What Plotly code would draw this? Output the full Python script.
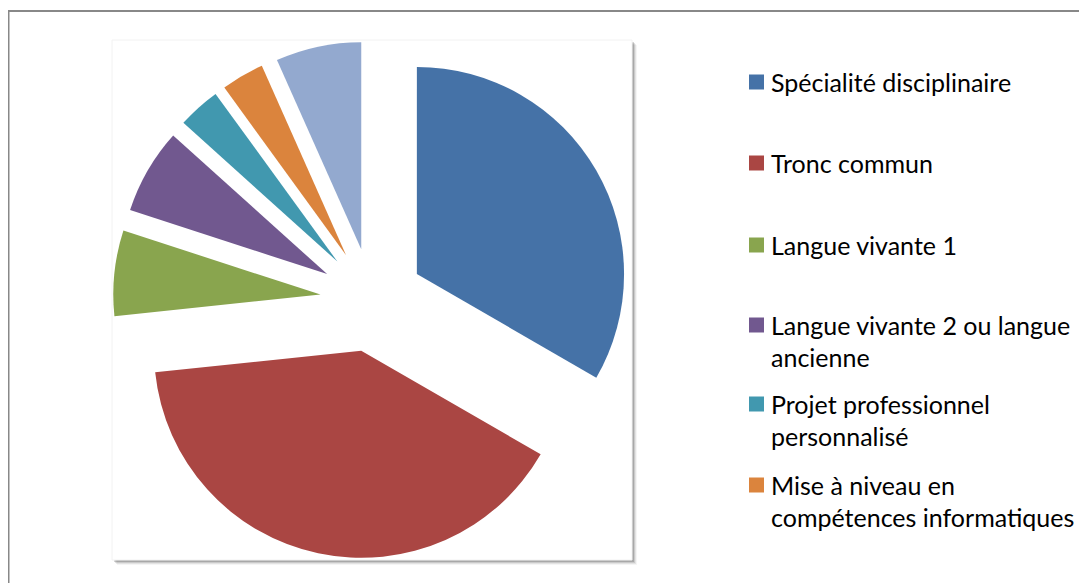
import plotly.graph_objects as go

W, H = 1087, 583
OFF = 8  # page body margin

labels = ["Spécialité disciplinaire", "Tronc commun", "Langue vivante 1",
          "Langue vivante 2 ou langue ancienne", "Projet professionnel personnalisé",
          "Mise à niveau en compétences informatiques", "Autre"]
values = [10, 12, 2, 2, 1, 1, 2]
colors = ["#4572A7", "#AA4643", "#89A54E", "#71588F", "#4198AF", "#DB843D", "#93A9CF"]
pulls = [0.25] * 7

# legend as shown (the last item is cut off in the original)
legend_lines = [
    ["Spécialité disciplinaire"],
    ["Tronc commun"],
    ["Langue vivante 1"],
    ["Langue vivante 2 ou langue", "ancienne"],
    ["Projet professionnel", "personnalisé"],
    ["Mise à niveau en", "compétences informatiques"],
]
legend_y = [82, 163, 245, 325, 404, 485]
line_gap = 32


def px(x):
    return (x - OFF) / W


def py(y):
    return 1 - (y - OFF) / H


fig = go.Figure()
fig.add_trace(go.Pie(
    labels=labels, values=values,
    marker=dict(colors=colors, line=dict(width=0)),
    pull=pulls, sort=False, direction="clockwise", rotation=0,
    textinfo="none", showlegend=False,
    domain=dict(x=[px(113), px(631)], y=[py(559), py(41)]),
))

shapes = []
# outer frame
shapes.append(dict(type="rect", xref="paper", yref="paper", layer="below",
                   x0=px(8.5), x1=px(1110), y0=py(620), y1=py(11),
                   line=dict(color="#888888", width=2), fillcolor="white"))
# plot area shadow
for off, op in [(5, 0.04), (4, 0.07), (3, 0.11), (2, 0.17)]:
    shapes.append(dict(type="rect", xref="paper", yref="paper", layer="below",
                       x0=px(112 + off), x1=px(632 + off), y0=py(560 + off), y1=py(40 + off),
                       line=dict(width=0), fillcolor=f"rgba(0,0,0,{op})"))
shapes.append(dict(type="rect", xref="paper", yref="paper", layer="below",
                   x0=px(112), x1=px(632), y0=py(560), y1=py(40),
                   line=dict(color="#f2f2f2", width=1), fillcolor="white"))

annotations = []
for i, lines in enumerate(legend_lines):
    yc = legend_y[i]
    shapes.append(dict(type="rect", xref="paper", yref="paper",
                       x0=px(749), x1=px(764), y0=py(yc + 7.5), y1=py(yc - 7.5),
                       line=dict(width=0), fillcolor=colors[i]))
    for j, t in enumerate(lines):
        annotations.append(dict(text=t, xref="paper", yref="paper",
                                x=px(769), y=py(yc + j * line_gap),
                                xanchor="left", yanchor="middle", showarrow=False,
                                font=dict(family="Lato", size=25, color="#000000")))

fig.update_layout(
    width=W, height=H, margin=dict(l=0, r=0, t=0, b=0),
    paper_bgcolor="white", plot_bgcolor="white",
    shapes=shapes, annotations=annotations,
)

fig.write_html("out.html")
